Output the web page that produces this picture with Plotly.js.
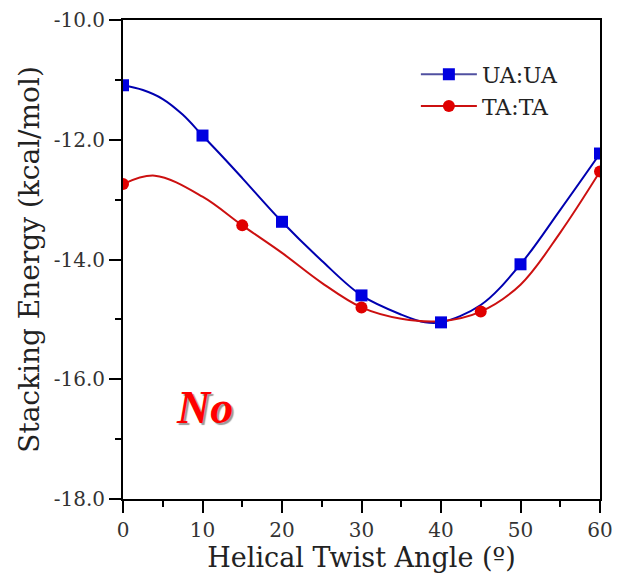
<!DOCTYPE html>
<html>
<head>
<meta charset="utf-8">
<script src="https://cdn.plot.ly/plotly-3.0.1.min.js"></script>
<style>html,body{margin:0;padding:0;background:#fff;}#chart{width:617px;height:576px;}</style>
</head>
<body>
<div id="chart"></div>
<script>
// Data points
const uaX = [0, 10, 20, 30, 40, 50, 60];
const uaY = [-11.09, -11.93, -13.37, -14.60, -15.05, -14.08, -12.23];
const taX = [0, 15, 30, 45, 60];
const taY = [-12.74, -13.43, -14.80, -14.87, -12.53];
// Fitted curves
const uaFitX = [0, 2.5, 5, 7.5, 10, 12.5, 15, 20, 25, 30, 35, 38, 40, 45, 50, 55, 60];
const uaFitY = [-11.09, -11.17, -11.32, -11.58, -11.93, -12.28, -12.64, -13.37, -14.02, -14.60, -14.92, -15.05, -15.05, -14.76, -14.08, -13.17, -12.23];
const taFitX = [0, 4, 10, 15, 20, 25, 30, 35, 40, 45, 50, 55, 60];
const taFitY = [-12.74, -12.60, -12.95, -13.43, -13.89, -14.39, -14.80, -14.99, -15.03, -14.87, -14.42, -13.55, -12.53];
const seriesNames = ["UA:UA", "TA:TA"];
const xTicks = [0, 10, 20, 30, 40, 50, 60];
const yTicks = [-18, -16, -14, -12, -10];
const yTickText = ["-18.0", "-16.0", "-14.0", "-12.0", "-10.0"];

const blue = "#0000e0";
const red = "#e00000";
const serif = "DejaVu Serif, serif";

const traces = [
  {x: uaFitX, y: uaFitY, mode: "lines", line: {color: "#0000b0", width: 2, shape: "spline", smoothing: 1}, showlegend: false, hoverinfo: "skip"},
  {x: taFitX, y: taFitY, mode: "lines", line: {color: "#cc1010", width: 2, shape: "spline", smoothing: 1}, showlegend: false, hoverinfo: "skip"},
  {x: uaX, y: uaY, mode: "markers", marker: {symbol: "square", size: 12, color: blue}, showlegend: false},
  {x: taX, y: taY, mode: "markers", marker: {symbol: "circle", size: 12, color: red}, showlegend: false},
  {x: [null], y: [null], name: seriesNames[0], mode: "lines+markers", line: {color: "#5050a0", width: 2},
   marker: {symbol: "square", size: 12, color: blue}},
  {x: [null], y: [null], name: seriesNames[1], mode: "lines+markers", line: {color: "#cc1010", width: 2},
   marker: {symbol: "circle", size: 12, color: red}}
];

const layout = {
  width: 617, height: 576,
  margin: {l: 123, r: 17, t: 20, b: 77},
  paper_bgcolor: "#fff", plot_bgcolor: "#fff",
  font: {family: serif, color: "#222"},
  showlegend: true,
  legend: {x: 0.614, y: 0.93, xanchor: "left", yanchor: "top", bgcolor: "rgba(0,0,0,0)",
    font: {family: serif, size: 22, color: "#222"}, tracegroupgap: 0, itemwidth: 56},
  xaxis: {
    range: [0, 60], tickvals: xTicks, ticks: "outside", ticklen: 12, tickwidth: 2, tickcolor: "#000",
    showline: true, linecolor: "#000", linewidth: 2, mirror: true, showgrid: false, zeroline: false,
    tickfont: {family: serif, size: 20, color: "#333"},
    minor: {dtick: 5, ticks: "outside", ticklen: 6, tickwidth: 2, tickcolor: "#000", showgrid: false},
    title: {text: "Helical Twist Angle (º)", font: {family: serif, size: 27, color: "#222"}, standoff: 4}
  },
  yaxis: {
    range: [-18, -10], tickvals: yTicks, ticktext: yTickText, ticks: "outside", ticklen: 12, tickwidth: 2, tickcolor: "#000",
    showline: true, linecolor: "#000", linewidth: 2, mirror: true, showgrid: false, zeroline: false,
    tickfont: {family: serif, size: 20, color: "#333"},
    minor: {dtick: 1, ticks: "outside", ticklen: 6, tickwidth: 2, tickcolor: "#000", showgrid: false},
    title: {text: "Stacking Energy (kcal/mol)", font: {family: serif, size: 28, color: "#222"}, standoff: 6}
  },
  annotations: [{
    text: "<i><b>No</b></i>", xref: "paper", yref: "paper", x: 0.17, y: 0.19, xanchor: "center", yanchor: "middle", showarrow: false,
    font: {family: "Liberation Serif, serif", size: 46, color: "#ff0000", shadow: "2px 2px 1px #999"}
  }]
};

Plotly.newPlot("chart", traces, layout, {displayModeBar: false, staticPlot: true});
</script>
</body>
</html>
